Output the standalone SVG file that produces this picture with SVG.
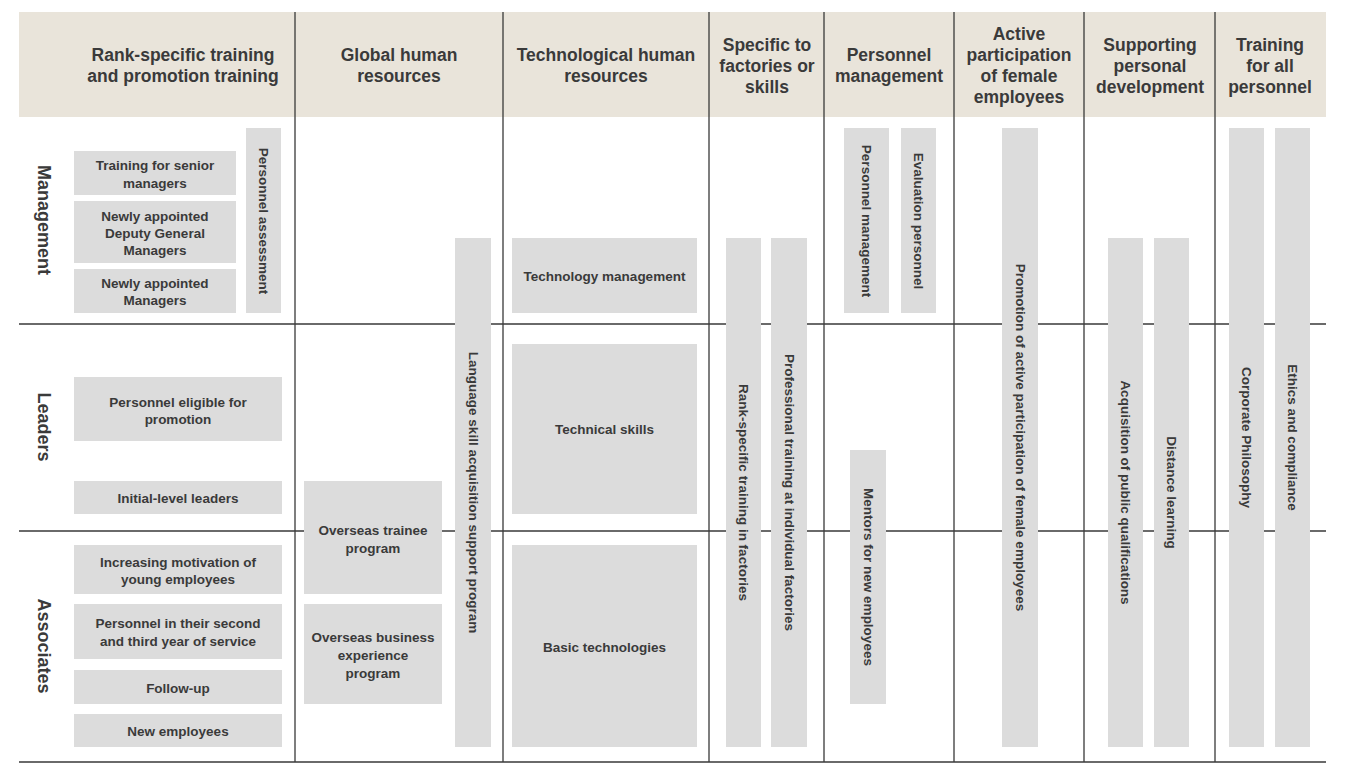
<svg xmlns="http://www.w3.org/2000/svg" width="1351" height="765" viewBox="0 0 1351 765">
<style>
.b{fill:#dcdcdc}
.t{font-family:"Liberation Sans",Arial,sans-serif;font-weight:bold;font-size:13.5px;fill:#3a3a3a;text-anchor:middle;dominant-baseline:central}
.h{font-family:"Liberation Sans",Arial,sans-serif;font-weight:bold;font-size:17.5px;fill:#3a3a3a;text-anchor:middle}
.r{font-family:"Liberation Sans",Arial,sans-serif;font-weight:bold;font-size:18px;fill:#3a3a3a;text-anchor:middle;dominant-baseline:central}
.l{stroke:#3a3a3a;stroke-width:1.3;fill:none}
</style>
<rect width="1351" height="765" fill="#fff"/>
<rect x="19" y="12" width="1307" height="105" fill="#e9e4da"/>
<g id="connectors">
<path class="l" d="M19 324H1326M19 531H1326M19 762H1326M295 12V762M503 12V762M709 12V762M824 12V762M954 12V762M1084 12V762M1215 12V762"/>
</g>
<g id="headers">
<text class="h" x="183" y="61">Rank-specific training</text><text class="h" x="183" y="82">and promotion training</text>
<text class="h" x="399" y="61">Global human</text><text class="h" x="399" y="82">resources</text>
<text class="h" x="606" y="61">Technological human</text><text class="h" x="606" y="82">resources</text>
<text class="h" x="767" y="51">Specific to</text><text class="h" x="767" y="72">factories or</text><text class="h" x="767" y="93">skills</text>
<text class="h" x="889" y="61">Personnel</text><text class="h" x="889" y="82">management</text>
<text class="h" x="1019" y="40">Active</text><text class="h" x="1019" y="61">participation</text><text class="h" x="1019" y="82">of female</text><text class="h" x="1019" y="103">employees</text>
<text class="h" x="1150" y="51">Supporting</text><text class="h" x="1150" y="72">personal</text><text class="h" x="1150" y="93">development</text>
<text class="h" x="1270" y="51">Training</text><text class="h" x="1270" y="72">for all</text><text class="h" x="1270" y="93">personnel</text>
</g>
<g id="rows">
<text class="r" transform="translate(44,220) rotate(90)">Management</text>
<text class="r" transform="translate(44,427) rotate(90)">Leaders</text>
<text class="r" transform="translate(44,646) rotate(90)">Associates</text>
</g>
<g id="n1"><rect class="b" x="74" y="151" width="162" height="44"/><text class="t" x="155" y="165">Training for senior</text><text class="t" x="155" y="183">managers</text></g>
<g id="n2"><rect class="b" x="74" y="201" width="162" height="62"/><text class="t" x="155" y="216">Newly appointed</text><text class="t" x="155" y="233">Deputy General</text><text class="t" x="155" y="250">Managers</text></g>
<g id="n3"><rect class="b" x="74" y="269" width="162" height="44"/><text class="t" x="155" y="283">Newly appointed</text><text class="t" x="155" y="300">Managers</text></g>
<g id="n4"><rect class="b" x="246" y="128" width="35" height="185"/><text class="t" transform="translate(263.5,221) rotate(90)">Personnel assessment</text></g>
<g id="n5"><rect class="b" x="74" y="377" width="208" height="64"/><text class="t" x="178" y="402">Personnel eligible for</text><text class="t" x="178" y="419">promotion</text></g>
<g id="n6"><rect class="b" x="74" y="481" width="208" height="33"/><text class="t" x="178" y="498">Initial-level leaders</text></g>
<g id="n7"><rect class="b" x="74" y="545" width="208" height="49"/><text class="t" x="178" y="562">Increasing motivation of</text><text class="t" x="178" y="579">young employees</text></g>
<g id="n8"><rect class="b" x="74" y="604" width="208" height="55"/><text class="t" x="178" y="623">Personnel in their second</text><text class="t" x="178" y="641">and third year of service</text></g>
<g id="n9"><rect class="b" x="74" y="670" width="208" height="34"/><text class="t" x="178" y="688">Follow-up</text></g>
<g id="n10"><rect class="b" x="74" y="714" width="208" height="33"/><text class="t" x="178" y="731">New employees</text></g>
<g id="n11"><rect class="b" x="304" y="481" width="138" height="113"/><text class="t" x="373" y="530">Overseas trainee</text><text class="t" x="373" y="548">program</text></g>
<g id="n12"><rect class="b" x="304" y="604" width="138" height="100"/><text class="t" x="373" y="637">Overseas business</text><text class="t" x="373" y="655">experience</text><text class="t" x="373" y="673">program</text></g>
<g id="n13"><rect class="b" x="455" y="238" width="36" height="509"/><text class="t" transform="translate(473,492.5) rotate(90)">Language skill acquisition support program</text></g>
<g id="n14"><rect class="b" x="512" y="238" width="185" height="75"/><text class="t" x="604.5" y="276">Technology management</text></g>
<g id="n15"><rect class="b" x="512" y="344" width="185" height="170"/><text class="t" x="604.5" y="429">Technical skills</text></g>
<g id="n16"><rect class="b" x="512" y="545" width="185" height="202"/><text class="t" x="604.5" y="647">Basic technologies</text></g>
<g id="n17"><rect class="b" x="726" y="238" width="35" height="509"/><text class="t" transform="translate(743.5,492.5) rotate(90)">Rank-specific training in factories</text></g>
<g id="n18"><rect class="b" x="771" y="238" width="36" height="509"/><text class="t" transform="translate(789,492.5) rotate(90)">Professional training at individual factories</text></g>
<g id="n19"><rect class="b" x="844" y="128" width="45" height="185"/><text class="t" transform="translate(866.5,221) rotate(90)">Personnel management</text></g>
<g id="n20"><rect class="b" x="901" y="128" width="35" height="185"/><text class="t" transform="translate(918.5,221) rotate(90)">Evaluation personnel</text></g>
<g id="n21"><rect class="b" x="850" y="450" width="36" height="254"/><text class="t" transform="translate(868,577) rotate(90)">Mentors for new employees</text></g>
<g id="n22"><rect class="b" x="1002" y="128" width="36" height="619"/><text class="t" transform="translate(1020,437.5) rotate(90)">Promotion of active participation of female employees</text></g>
<g id="n23"><rect class="b" x="1108" y="238" width="35" height="509"/><text class="t" transform="translate(1125.5,492.5) rotate(90)">Acquisition of public qualifications</text></g>
<g id="n24"><rect class="b" x="1154" y="238" width="35" height="509"/><text class="t" transform="translate(1171.5,492.5) rotate(90)">Distance learning</text></g>
<g id="n25"><rect class="b" x="1229" y="128" width="35" height="619"/><text class="t" transform="translate(1246.5,437.5) rotate(90)">Corporate Philosophy</text></g>
<g id="n26"><rect class="b" x="1275" y="128" width="35" height="619"/><text class="t" transform="translate(1292.5,437.5) rotate(90)">Ethics and compliance</text></g>
</svg>
